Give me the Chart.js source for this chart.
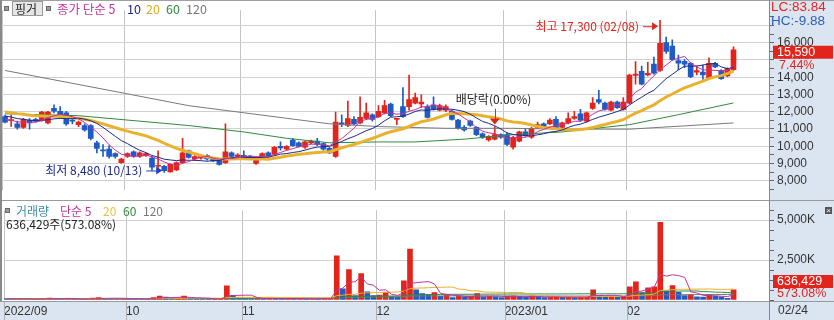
<!DOCTYPE html>
<html>
<head>
<meta charset="utf-8">
<script src="https://cdn.jsdelivr.net/npm/chart.js@4.4.0/dist/chart.umd.min.js"></script>
<style>
  body { margin: 0; background: #fff; }
  #wrap { position: relative; width: 834px; height: 320px; overflow: hidden; }
  canvas { position: absolute; left: 0; }
</style>
</head>
<body>
<div id="wrap">
  <canvas id="priceChart" width="834" height="200" style="top:0"></canvas>
  <canvas id="volumeChart" width="834" height="120" style="top:200px"></canvas>
</div>
<script>
// month start indexes and labels on the bottom axis
const monthStarts = [0, 20, 39, 61, 82, 102];
const monthLabels = ["2022/09", "10", "11", "12", "2023/01", "02"];
const lastDateLabel = "02/24";

// daily candles (2022/09/01 .. 2023/02/24)
const opens = [11720, 11480, 11300, 11090, 11510, 11560, 11510, 11350, 12190, 12030,
  11930, 11510, 11250, 11200, 11200, 10200, 9780, 9830, 9570, 9050,
  9410, 9680, 9410, 9460, 9310, 8840, 8840, 8520, 8630, 9050,
  9730, 9260, 9310, 9460, 9310, 9200, 9050, 9620, 9410, 9470,
  9410, 9000, 9410, 9620, 9520, 9990, 9830, 10360, 10200, 9940,
  10200, 10300, 10150, 9880, 9410, 11350, 11200, 11560, 11350, 11610,
  11820, 11720, 11930, 12450, 11560, 12300, 12300, 12500, 12450, 12300,
  12400, 12090, 12090, 12030, 11510, 11090, 11460, 11090, 10720, 10360,
  10410, 10670, 10670, 9940, 10300, 10830, 10520, 11090, 11300, 11300,
  11560, 11090, 11350, 11610, 11880, 11460, 12190, 12710, 12500, 12090,
  12560, 12140, 12500, 14100, 14340, 14130, 14760, 14390, 16010, 15800,
  14970, 14920, 14810, 14290, 14290, 13920, 14810, 14390, 14080, 14440];
const highs = [11800, 11800, 11460, 11620, 11600, 11620, 12030, 12030, 12400, 12300,
  12030, 11620, 11460, 11300, 11250, 10300, 10100, 10040, 9620, 9310,
  9620, 9730, 9680, 9620, 9410, 9730, 8900, 9000, 9100, 10460,
  9780, 9460, 9460, 9520, 9360, 9250, 11300, 9680, 9570, 9730,
  9460, 9410, 9620, 9680, 10000, 10250, 10040, 10460, 10250, 10300,
  10360, 10460, 10200, 9940, 11980, 11820, 12610, 11720, 12870, 12500,
  11880, 12350, 12660, 12500, 11600, 13400, 14130, 13080, 12980, 12400,
  12870, 12450, 12400, 12090, 11560, 11200, 11510, 11140, 10780, 10620,
  11140, 10720, 10780, 10570, 10880, 11040, 11090, 11400, 11350, 11610,
  11720, 11400, 11930, 12030, 12140, 11980, 12820, 13240, 12560, 12610,
  12610, 12820, 14180, 14900, 14650, 14860, 15170, 17300, 16330, 16170,
  15280, 15020, 14860, 14650, 14700, 15120, 14860, 14440, 14550, 15760];
const lows = [11350, 11150, 10990, 11040, 10990, 11400, 11460, 11300, 11930, 11720,
  11200, 11300, 11140, 10880, 10360, 9620, 9410, 9310, 9310, 9000,
  9360, 9360, 9360, 9410, 8600, 8680, 8480, 8500, 8580, 9000,
  9310, 9200, 9250, 9200, 9100, 8900, 9000, 9360, 9360, 9310,
  9260, 8950, 9360, 9360, 9470, 9780, 9780, 9990, 9940, 9880,
  10150, 10040, 9780, 9570, 9360, 11140, 11140, 11250, 11300, 11560,
  11460, 11670, 11880, 11720, 11250, 11670, 12090, 12450, 12240, 11620,
  12090, 12040, 12000, 11510, 10990, 10880, 11150, 10620, 10460, 10300,
  10360, 10460, 10040, 9830, 10250, 10570, 10460, 11040, 11090, 11250,
  10990, 11040, 11300, 11560, 11460, 11400, 12140, 12450, 12090, 12040,
  12190, 12090, 12450, 13600, 13550, 14080, 14180, 14340, 15380, 14970,
  14440, 14550, 13980, 14130, 13870, 13870, 14550, 13870, 14030, 14390];
const closes = [11400, 11510, 11090, 11560, 11350, 11460, 11980, 11980, 12030, 11770,
  11300, 11460, 11400, 10940, 10460, 9880, 9730, 9410, 9410, 9260,
  9570, 9410, 9620, 9570, 8790, 8900, 8580, 8950, 9050, 9620,
  9360, 9400, 9410, 9260, 9150, 8950, 9680, 9410, 9500, 9360,
  9310, 9360, 9570, 9410, 9940, 9910, 9990, 10040, 9990, 10250,
  10300, 10100, 9830, 9620, 11400, 11250, 11610, 11300, 11670, 11930,
  11560, 12030, 12350, 11770, 11580, 11720, 12710, 12820, 12560, 11670,
  12140, 12350, 12300, 11560, 11040, 10940, 11200, 10670, 10520, 10570,
  10670, 10520, 10100, 10520, 10830, 10620, 11040, 11250, 11140, 11510,
  11040, 11350, 11610, 11720, 11510, 11930, 12500, 12560, 12140, 12560,
  12240, 12560, 14130, 14180, 13600, 14230, 14230, 15960, 15490, 15020,
  14810, 14760, 14030, 14390, 14130, 14810, 14600, 13920, 14510, 15590];
// closes before the first visible day (feed the short averages)
const priorCloses = [12300, 12250, 12400, 12350, 12200, 12100, 12250, 12150, 12050, 12200,
  12100, 12000, 11900, 11950, 11800, 11700, 11600, 11550, 11500];

// long averages: [day index, price]
const ma60Points = [[0, 11880], [12, 11770], [30, 11200], [39, 10830], [46, 10460], [53, 10200],
  [61, 10250], [67, 10250], [75, 10410], [83, 10670], [91, 10830], [102, 11250], [110, 11830], [119, 12510]];
const ma120Points = [[0, 14390], [17, 13240], [30, 12350], [46, 11620], [53, 11300], [61, 11140],
  [72, 11040], [83, 11040], [91, 10990], [102, 10990], [119, 11350]];

// daily volume (shares)
const volumes = [90000, 70000, 60000, 80000, 50000, 60000, 110000, 120000, 100000, 80000,
  90000, 60000, 50000, 70000, 120000, 150000, 110000, 100000, 80000, 90000,
  90000, 80000, 70000, 60000, 150000, 245000, 180000, 120000, 140000, 245000,
  120000, 80000, 60000, 50000, 60000, 70000, 890000, 300000, 150000, 100000,
  80000, 100000, 70000, 120000, 80000, 70000, 100000, 80000, 90000, 60000,
  80000, 70000, 90000, 100000, 2760000, 700000, 1900000, 280000, 1650000, 510000,
  280000, 310000, 470000, 200000, 190000, 1200000, 3190000, 630000, 400000, 340000,
  470000, 230000, 320000, 150000, 230000, 180000, 210000, 400000, 180000, 230000,
  200000, 150000, 240000, 260000, 220000, 170000, 250000, 200000, 150000, 180000,
  200000, 170000, 190000, 150000, 170000, 200000, 630000, 260000, 180000, 200000,
  160000, 220000, 820000, 1140000, 470000, 760000, 820000, 4860000, 570000, 900000,
  480000, 280000, 330000, 200000, 180000, 350000, 250000, 200000, 111055, 636429];
const priorVolumes = [80000, 70000, 90000, 60000, 80000, 100000, 70000, 60000, 90000, 80000,
  70000, 60000, 80000, 90000, 70000, 60000, 80000, 70000, 90000];

const RED = "#e3241b";
const BLUE = "#1f5bc4";
const PANEL = "#dbe5f1";
const GRID = "#d0d0d0";
const KR = '"Noto Sans CJK KR", "Noto Sans", sans-serif';
const NUM = '"Liberation Sans", Arial, sans-serif';
const X_MIN = -0.5;
const X_MAX = 124.8;
const monthTickValues = monthStarts.map((i) => i - 0.5);

function movingAverage(prior, values, n) {
  const all = prior.concat(values);
  return values.map((v, i) => {
    const end = i + prior.length;
    const start = Math.max(0, end - n + 1);
    let sum = 0;
    for (let k = start; k <= end; k++) sum += all[k];
    return sum / (end - start + 1);
  });
}

const toPoints = (arr) => arr.map((v, i) => ({ x: i, y: v }));
const lineSet = (data, color, width, order) => ({
  type: "line", data, borderColor: color, borderWidth: width,
  pointRadius: 0, tension: 0, order,
});

function drawText(ctx, text, x, y, color, font, align) {
  ctx.font = font;
  ctx.fillStyle = color;
  ctx.textAlign = align || "left";
  ctx.textBaseline = "middle";
  ctx.fillText(text, x, y);
}

function legendSquare(ctx, x, y) {
  ctx.fillStyle = "#9a9a9a";
  ctx.fillRect(x, y, 5, 5);
  ctx.strokeStyle = "#6a6a6a";
  ctx.strokeRect(x + 0.5, y + 0.5, 4, 4);
}

// ---------- price panel ----------
const ma5 = movingAverage(priorCloses, closes, 5);
const ma10 = movingAverage(priorCloses, closes, 10);
const ma20 = movingAverage(priorCloses, closes, 20);
const candleColors = closes.map((c, i) => (c >= opens[i] ? RED : BLUE));

const pricePanel = {
  id: "pricePanel",
  beforeDraw(chart) {
    const { ctx, chartArea, width, height } = chart;
    ctx.save();
    ctx.fillStyle = "#fff";
    ctx.fillRect(0, 0, width, height);
    ctx.fillStyle = PANEL;
    ctx.fillRect(chartArea.right, 0, width - chartArea.right, height);
    ctx.restore();
  },
  afterDraw(chart) {
    const { ctx, chartArea, width } = chart;
    const xs = chart.scales.x;
    const ys = chart.scales.y;
    ctx.save();
    // frame
    ctx.fillStyle = "#a0a0a0";
    ctx.fillRect(0, 0, width, 1);
    ctx.fillStyle = "#8a8a8a";
    ctx.fillRect(0, 0, 2, 200);
    ctx.fillStyle = "#888";
    ctx.fillRect(chartArea.right, 0, 1, 200);

    // legend
    legendSquare(ctx, 4, 6);
    ctx.fillStyle = "#e6e6e6";
    ctx.fillRect(12, 1, 31, 15);
    ctx.strokeStyle = "#9a9a9a";
    ctx.strokeRect(12.5, 1.5, 30, 14);
    drawText(ctx, "핑거", 15, 9, "#222", "12px " + KR);
    legendSquare(ctx, 46, 6);
    drawText(ctx, "종가 단순 5", 57, 9, "#c2339f", "12.5px " + KR);
    drawText(ctx, "10", 127, 9, "#1c2a8a", "12.5px " + KR);
    drawText(ctx, "20", 146, 9, "#e0ac1c", "12.5px " + KR);
    drawText(ctx, "60", 166, 9, "#2e8b3e", "12.5px " + KR);
    drawText(ctx, "120", 186, 9, "#777", "12.5px " + KR);

    // highest mark
    const hx = xs.getPixelForValue(107);
    const hy = ys.getPixelForValue(17300) + 6;
    ctx.strokeStyle = RED;
    ctx.fillStyle = RED;
    ctx.lineWidth = 1;
    ctx.beginPath();
    ctx.moveTo(hx - 17, hy + 0.5);
    ctx.lineTo(hx - 6, hy + 0.5);
    ctx.stroke();
    ctx.beginPath();
    ctx.moveTo(hx - 2, hy);
    ctx.lineTo(hx - 8, hy - 4);
    ctx.lineTo(hx - 8, hy + 4);
    ctx.closePath();
    ctx.fill();
    drawText(ctx, "최고 17,300 (02/08)", hx - 21, hy, RED, "12px " + KR, "right");

    // lowest mark
    const lx = xs.getPixelForValue(26);
    const ly = ys.getPixelForValue(8480);
    ctx.strokeStyle = "#2040c0";
    ctx.fillStyle = "#2040c0";
    ctx.beginPath();
    ctx.moveTo(lx - 18, ly - 1.5);
    ctx.lineTo(lx - 7, ly - 1.5);
    ctx.stroke();
    ctx.beginPath();
    ctx.moveTo(lx - 2, ly - 2);
    ctx.lineTo(lx - 8, ly - 6);
    ctx.lineTo(lx - 8, ly + 2);
    ctx.closePath();
    ctx.fill();
    drawText(ctx, "최저 8,480 (10/13)", lx - 22, ly - 2, "#1c2a8a", "12px " + KR, "right");

    // ex-dividend mark
    const dx = xs.getPixelForValue(80);
    const dy = ys.getPixelForValue(highs[80]) - 2;
    ctx.fillStyle = RED;
    ctx.strokeStyle = RED;
    ctx.beginPath();
    ctx.moveTo(Math.round(dx) + 0.5, dy - 16);
    ctx.lineTo(Math.round(dx) + 0.5, dy - 5);
    ctx.stroke();
    ctx.beginPath();
    ctx.moveTo(dx, dy);
    ctx.lineTo(dx - 5, dy - 6);
    ctx.lineTo(dx + 5, dy - 6);
    ctx.closePath();
    ctx.fill();
    drawText(ctx, "배당락(0.00%)", dx - 39, dy - 25, "#222", "12px " + KR);

    // right panel texts
    const rx = chartArea.right;
    drawText(ctx, "LC:83.84", rx + 2, 7, RED, "13.5px " + NUM);
    drawText(ctx, "HC:-9.88", rx + 2, 21, "#2c5fb8", "13.5px " + NUM);
    const last = closes[closes.length - 1];
    const prev = closes[closes.length - 2];
    const py = ys.getPixelForValue(last) + 2;
    ctx.fillStyle = PANEL;
    ctx.fillRect(rx + 6, py + 7, width - rx - 6, 13);
    ctx.fillStyle = RED;
    ctx.fillRect(rx + 4, py - 6, 60, 13);
    drawText(ctx, last.toLocaleString("en-US"), rx + 8, py + 0.5, "#fff", "12.5px " + NUM);
    drawText(ctx, ((last / prev - 1) * 100).toFixed(2) + "%", rx + 10, py + 14, RED, "12.5px " + NUM);
    ctx.restore();
  },
};

new Chart(document.getElementById("priceChart"), {
  type: "bar",
  data: {
    datasets: [
      lineSet(toPoints(ma5), "#c2339f", 1, 0),
      lineSet(toPoints(ma10), "#1c2a8a", 1, 1),
      lineSet(toPoints(ma20), "#e9b12c", 3, 2),
      lineSet(ma60Points.map((p) => ({ x: p[0], y: p[1] })), "#2e8b3e", 1, 3),
      lineSet(ma120Points.map((p) => ({ x: p[0], y: p[1] })), "#7a7a7a", 1, 3),
      {
        type: "bar",
        data: opens.map((o, i) => ({ x: i, y: [o, closes[i]] })),
        backgroundColor: candleColors,
        barThickness: 5,
        minBarLength: 1,
        grouped: false,
        order: 4,
      },
      {
        type: "bar",
        data: lows.map((l, i) => ({ x: i, y: [l, highs[i]] })),
        backgroundColor: candleColors,
        barThickness: 1,
        grouped: false,
        order: 5,
      },
    ],
  },
  options: {
    responsive: false,
    animation: false,
    devicePixelRatio: 1,
    layout: { padding: { left: 2, top: 1, right: 0, bottom: 0 } },
    plugins: { legend: { display: false }, tooltip: { enabled: false } },
    scales: {
      x: {
        type: "linear",
        offset: false,
        min: X_MIN,
        max: X_MAX,
        afterBuildTicks: (s) => { s.ticks = monthTickValues.map((v) => ({ value: v })); },
        ticks: { display: false },
        grid: { color: "#c4c4c4", drawTicks: false, offset: false },
        border: { display: false },
        afterFit: (s) => { s.height = 0; },
      },
      y: {
        position: "right",
        min: 7477,
        max: 17882,
        afterBuildTicks: (s) => {
          const t = [];
          for (let v = 7500; v <= 17500; v += 500) t.push({ value: v });
          s.ticks = t;
        },
        grid: {
          color: (c) => (c.tick && c.tick.value % 1000 === 0 ? GRID : "rgba(0,0,0,0)"),
          tickColor: "#666",
          tickLength: 5,
        },
        border: { color: "#888" },
        ticks: {
          autoSkip: false,
          padding: 3,
          color: "#333",
          font: { family: NUM, size: 12 },
          callback: (v) => (v % 1000 === 0 && v >= 8000 && v <= 16000 ? v.toLocaleString("en-US") : ""),
        },
        afterFit: (s) => { s.width = 65; },
      },
    },
  },
  plugins: [pricePanel],
});

// ---------- volume panel ----------
const allVolumes = priorVolumes.concat(volumes);
const volColors = volumes.map((v, i) => (v > allVolumes[i + priorVolumes.length - 1] ? RED : BLUE));
const vma5 = movingAverage(priorVolumes, volumes, 5);
const vma20 = movingAverage(priorVolumes, volumes, 20);
const vma60 = movingAverage(priorVolumes, volumes, 60);
const vma120 = movingAverage(priorVolumes, volumes, 120);

const volumePanel = {
  id: "volumePanel",
  beforeDraw(chart) {
    const { ctx, chartArea, width, height } = chart;
    ctx.save();
    ctx.fillStyle = "#fff";
    ctx.fillRect(0, 0, width, height);
    ctx.fillStyle = PANEL;
    ctx.fillRect(chartArea.right, 0, width - chartArea.right, height);
    ctx.fillRect(0, chartArea.bottom + 1, width, height - chartArea.bottom - 1);
    ctx.restore();
  },
  afterDraw(chart) {
    const { ctx, chartArea, width, height } = chart;
    const xs = chart.scales.x;
    ctx.save();
    ctx.fillStyle = "#9a9a9a";
    ctx.fillRect(0, 0, width, 1);
    ctx.fillRect(0, chartArea.bottom + 1, width, 1);
    ctx.fillStyle = "#8a8a8a";
    ctx.fillRect(0, 0, 2, chartArea.bottom + 1);
    ctx.fillStyle = "#888";
    ctx.fillRect(chartArea.right, 0, 1, height);
    ctx.fillStyle = "#b0b0b0";
    monthTickValues.forEach((v) => {
      const px = Math.round(xs.getPixelForValue(v));
      ctx.fillRect(px, chartArea.bottom + 2, 1, height - chartArea.bottom - 2);
    });
    drawText(ctx, lastDateLabel, chartArea.right + 9, chartArea.bottom + 11, "#333", "12px " + NUM);

    // legend
    legendSquare(ctx, 5, 8);
    drawText(ctx, "거래량", 16, 11, "#3c8ea6", "12px " + KR);
    drawText(ctx, "단순 5", 60, 11, "#c2339f", "12px " + KR);
    drawText(ctx, "20", 103, 11, "#e8c040", "12px " + KR);
    drawText(ctx, "60", 123, 11, "#2e8b3e", "12px " + KR);
    drawText(ctx, "120", 143, 11, "#777", "12px " + KR);
    const lastVol = volumes[volumes.length - 1];
    const prevVol = volumes[volumes.length - 2];
    const ratio = ((lastVol / prevVol) * 100).toFixed(2) + "%";
    drawText(ctx, lastVol.toLocaleString("en-US") + "주(" + ratio + ")", 6, 24, "#222", "12px " + KR);

    // close box
    ctx.fillStyle = "#555";
    ctx.fillRect(width - 9, 7, 7, 7);
    drawText(ctx, "×", width - 5.5, 10.5, "#fff", "8px " + NUM, "center");

    // last volume tag
    const rx = chartArea.right;
    ctx.fillStyle = RED;
    ctx.fillRect(rx + 4, 75, 60, 13);
    drawText(ctx, lastVol.toLocaleString("en-US"), rx + 8, 81.5, "#fff", "12.5px " + NUM);
    drawText(ctx, ratio, rx + 8, 94, RED, "12.5px " + NUM);
    ctx.restore();
  },
};

new Chart(document.getElementById("volumeChart"), {
  type: "bar",
  data: {
    datasets: [
      lineSet(toPoints(vma5), "#c2339f", 1, 0),
      lineSet(toPoints(vma20), "#e8b02a", 1, 1),
      lineSet(toPoints(vma60), "#2e8b3e", 1, 2),
      lineSet(toPoints(vma120), "#7a7a7a", 1, 3),
      {
        type: "bar",
        data: toPoints(volumes),
        backgroundColor: volColors,
        barThickness: 5,
        minBarLength: 1,
        grouped: false,
        order: 4,
      },
    ],
  },
  options: {
    responsive: false,
    animation: false,
    devicePixelRatio: 1,
    layout: { padding: { left: 2, top: 1, right: 0, bottom: 0 } },
    plugins: { legend: { display: false }, tooltip: { enabled: false } },
    scales: {
      x: {
        type: "linear",
        offset: false,
        min: X_MIN,
        max: X_MAX,
        afterBuildTicks: (s) => { s.ticks = monthTickValues.map((v) => ({ value: v })); },
        ticks: {
          autoSkip: false,
          maxRotation: 0,
          align: "start",
          padding: 4,
          color: "#333",
          font: { family: NUM, size: 12 },
          callback: (v) => monthLabels[monthTickValues.indexOf(v)] || "",
        },
        grid: { color: "#c4c4c4", drawTicks: false, offset: false },
        border: { display: false },
        afterFit: (s) => { s.height = 20; },
      },
      y: {
        position: "right",
        min: 0,
        max: 5625000,
        afterBuildTicks: (s) => {
          const t = [];
          for (let v = 0; v <= 5625000; v += 625000) t.push({ value: v });
          s.ticks = t;
        },
        grid: {
          color: (c) => (c.tick && c.tick.value > 0 && c.tick.value % 2500000 === 0 ? GRID : "rgba(0,0,0,0)"),
          tickColor: "#666",
          tickLength: 5,
        },
        border: { color: "#888" },
        ticks: {
          autoSkip: false,
          padding: 3,
          color: "#333",
          font: { family: NUM, size: 12 },
          callback: (v) => (v > 0 && v % 2500000 === 0 ? (v / 1000).toLocaleString("en-US") + "K" : ""),
        },
        afterFit: (s) => { s.width = 65; },
      },
    },
  },
  plugins: [volumePanel],
});
</script>
</body>
</html>
